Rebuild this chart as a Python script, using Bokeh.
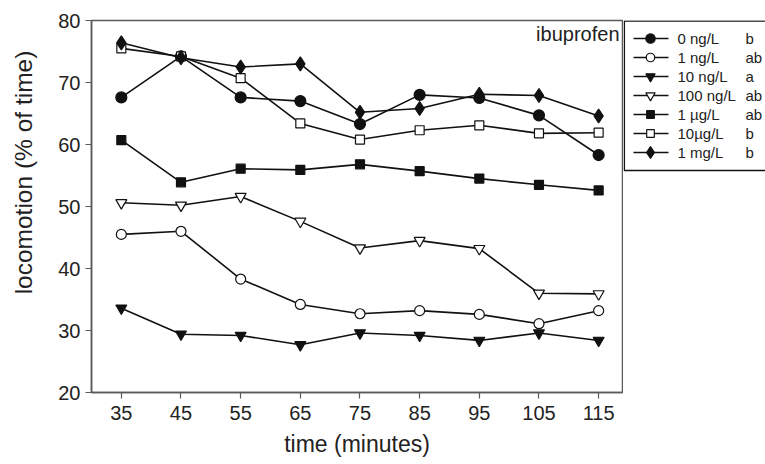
import math
from bokeh.plotting import figure
from bokeh.models import Range1d, FixedTicker, ColumnDataSource
from bokeh.layouts import row
from bokeh.embed import file_html
from bokeh.resources import INLINE
from bokeh.core.properties import value

# ---------------- data ----------------
times = [35, 45, 55, 65, 75, 85, 95, 105, 115]
conc_0ng = [67.6, 74.2, 67.6, 67.0, 63.3, 68.0, 67.5, 64.7, 58.3]
conc_1ng = [45.5, 46.0, 38.3, 34.2, 32.7, 33.2, 32.6, 31.1, 33.2]
conc_10ng = [33.6, 29.4, 29.2, 27.7, 29.6, 29.2, 28.4, 29.6, 28.4]
conc_100ng = [50.6, 50.2, 51.6, 47.6, 43.3, 44.5, 43.2, 36.0, 35.9]
conc_1ug = [60.7, 53.9, 56.1, 55.9, 56.8, 55.7, 54.5, 53.5, 52.6]
conc_10ug = [75.5, 74.2, 70.7, 63.4, 60.8, 62.3, 63.1, 61.8, 61.9]
conc_1mg = [76.4, 74.0, 72.5, 73.0, 65.2, 65.8, 68.1, 67.9, 64.6]

series_labels = ["0 ng/L", "1 ng/L", "10 ng/L", "100 ng/L", "1 \u00b5g/L", "10\u00b5g/L", "1 mg/L"]
series_groups = ["b", "ab", "a", "ab", "ab", "b", "b"]
x_ticks = [35, 45, 55, 65, 75, 85, 95, 105, 115]
y_ticks = [20, 30, 40, 50, 60, 70, 80]

series_values = [conc_0ng, conc_1ng, conc_10ng, conc_100ng, conc_1ug, conc_10ug, conc_1mg]
# marker styles (marker, filled, size)
styles = [
    ("circle", True, 11),
    ("circle", False, 10),
    ("inverted_triangle", True, 11),
    ("inverted_triangle", False, 11),
    ("square", True, 9),
    ("square", False, 9),
    ("diamond", True, 14),
]

FONT = "Liberation Sans"
INK = "#111111"
FRAME = "#5a5a5a"
TXT = "#222222"


def blank_panel(w, xr, yr):
    f = figure(width=w, height=464, output_backend="svg", toolbar_location=None,
               x_range=xr, y_range=yr,
               min_border_left=0, min_border_right=0, min_border_top=20, min_border_bottom=72,
               x_axis_location=None, y_axis_location=None)
    f.grid.visible = False
    f.outline_line_color = None
    f.background_fill_color = "white"
    f.border_fill_color = "white"
    return f


# ---------------- y-axis title panel ----------------
yl = blank_panel(40, Range1d(0, 40), Range1d(392, 20))
yl.text(x=[23], y=[172], text=["locomotion (% of time)"], angle=math.pi / 2,
        text_align="center", text_baseline="middle", text_font=value(FONT),
        text_font_size="24.5px", text_color=TXT)

# ---------------- main plot ----------------
p = figure(width=583, height=464, output_backend="svg", toolbar_location=None,
           x_range=Range1d(30, 119), y_range=Range1d(20, 80),
           min_border_left=51, min_border_right=1, min_border_top=20, min_border_bottom=72)
p.grid.visible = False
p.outline_line_color = FRAME
p.outline_line_width = 1.5
p.background_fill_color = "white"
p.border_fill_color = "white"

for ax in (p.xaxis[0], p.yaxis[0]):
    ax.axis_line_color = FRAME
    ax.axis_line_width = 1.5
    ax.major_tick_line_color = FRAME
    ax.major_tick_line_width = 1.2
    ax.major_tick_out = 6
    ax.major_tick_in = 0
    ax.minor_tick_line_color = None
    ax.major_label_text_font = FONT
    ax.major_label_text_font_size = "20px"
    ax.major_label_text_color = TXT
    ax.axis_label_text_font = FONT
    ax.axis_label_text_font_style = "normal"
    ax.axis_label_text_font_size = "23px"
    ax.axis_label_text_color = TXT

p.xaxis.ticker = FixedTicker(ticks=x_ticks)
p.yaxis.ticker = FixedTicker(ticks=y_ticks)
p.xaxis.axis_label = "time (minutes)"
p.xaxis.major_label_standoff = 7
p.yaxis.major_label_standoff = 5
p.xaxis.axis_label_standoff = 8

for vals, (mk, filled, sz) in zip(series_values, styles):
    src = ColumnDataSource(dict(x=times, y=vals))
    p.line("x", "y", source=src, line_color=INK, line_width=1.6)
    p.scatter("x", "y", source=src, marker=mk, size=sz, line_color=INK, line_width=1.2,
              fill_color=INK if filled else "white")

p.text(x=[119], y=[77.9], text=["ibuprofen"], text_font=value(FONT), text_font_size="20px",
       text_align="right", text_baseline="middle", text_color=TXT, x_offset=-3)

# ---------------- legend panel (frame aligned with main plot frame) ----------------
lg = blank_panel(142, Range1d(0, 142), Range1d(392, 20))
lg.quad(left=[0.8], right=[160], top=[20.6], bottom=[170], fill_color="white",
        line_color=INK, line_width=1.5)

row_y = [38, 57, 76, 95, 114, 133, 152]
for ry, lab, grp, (mk, filled, sz) in zip(row_y, series_labels, series_groups, styles):
    lg.segment(x0=[10], x1=[45], y0=[ry], y1=[ry], line_color=INK, line_width=1.6)
    lg.scatter(x=[27], y=[ry], marker=mk, size=sz * 0.85, line_color=INK, line_width=1.2,
               fill_color=INK if filled else "white")
    lg.text(x=[54], y=[ry], text=[lab], text_font=value(FONT), text_font_size="15px",
            text_baseline="middle", text_color=TXT)
    lg.text(x=[122], y=[ry], text=[grp], text_font=value(FONT), text_font_size="15px",
            text_baseline="middle", text_color=TXT)

layout = row(yl, p, lg, spacing=0)
open("out.html", "w").write(file_html(layout, INLINE))
